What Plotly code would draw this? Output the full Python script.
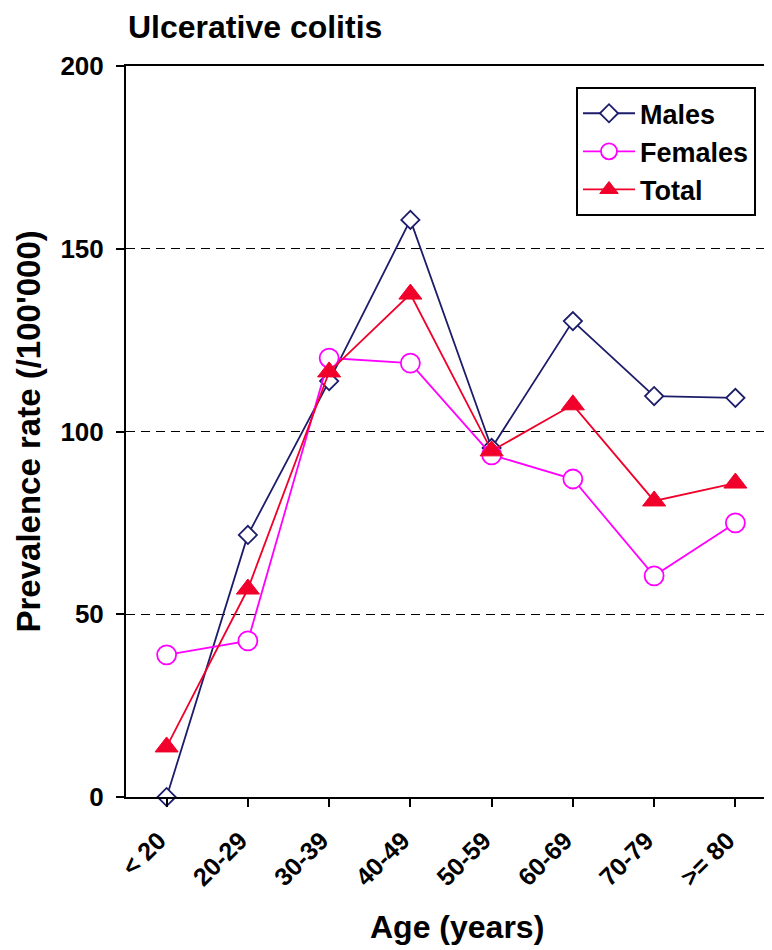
import plotly.graph_objects as go

categories = ["< 20", "20-29", "30-39", "40-49", "50-59", "60-69", "70-79", ">= 80"]
males = [0, 71.7, 113.8, 157.9, 95.5, 130.2, 109.7, 109.2]
females = [38.9, 42.7, 120.1, 118.7, 93.6, 87.0, 60.5, 75.0]
total = [13.7, 56.9, 116.3, 137.6, 94.7, 107.3, 81.0, 85.9]
y_ticks = [0, 50, 100, 150, 200]

FONT = "Arial, Liberation Sans, sans-serif"
xs = list(range(len(categories)))

fig = go.Figure()
fig.add_trace(go.Scatter(
    x=xs, y=males, name="<b>Males</b>", mode="lines+markers",
    line=dict(color="#1c1c6b", width=1.8),
    marker=dict(symbol="diamond", size=14, color="white",
                line=dict(color="#1c1c6b", width=1.8)),
    cliponaxis=False))
fig.add_trace(go.Scatter(
    x=xs, y=females, name="<b>Females</b>", mode="lines+markers",
    line=dict(color="#ff00ff", width=1.8),
    marker=dict(symbol="circle", size=19, color="white",
                line=dict(color="#ff00ff", width=1.8)),
    cliponaxis=False))
fig.add_trace(go.Scatter(
    x=xs, y=total, name="<b>Total</b>", mode="lines+markers",
    line=dict(color="#f0002a", width=1.8),
    marker=dict(symbol="triangle-up", size=20, color="#f0002a",
                line=dict(color="#f0002a", width=1)),
    cliponaxis=False))

L, R, T, B = 118, 768, 58, 789

fig.update_layout(
    width=772, height=950,
    margin=dict(l=L, r=772 - R, t=T, b=950 - B, autoexpand=False),
    paper_bgcolor="white", plot_bgcolor="white",
    font=dict(family=FONT, color="black"),
    title=dict(text="<b>Ulcerative colitis</b>", x=120/772, xanchor="left",
               y=1-19/950, yanchor="middle", font=dict(size=32, family=FONT)),
    legend=dict(x=(568 - L) / (R - L), y=0.971, xanchor="left", yanchor="top",
                bordercolor="black", borderwidth=2, bgcolor="white",
                font=dict(size=27, family=FONT), itemwidth=52),
    showlegend=True,
    annotations=[
        dict(text="<b>Age (years)</b>", xref="paper", yref="paper", x=0.5, y=0,
             xanchor="center", yanchor="middle", xshift=6, yshift=-(919 - B),
             showarrow=False, font=dict(size=32, family=FONT)),
        dict(text="<b>Prevalence rate (/100'000)</b>", xref="paper", yref="paper",
             x=0, y=0.5, xanchor="center", yanchor="middle", xshift=-(L - 20),
             textangle=-90, showarrow=False, font=dict(size=33, family=FONT)),
    ],
)
fig.update_xaxes(
    range=[-0.5, 7.5], tickmode="array", tickvals=xs,
    ticktext=["<b>%s</b>" % c for c in categories],
    tickangle=-45, tickson="boundaries", ticks="outside", ticklen=8,
    tickwidth=2, tickcolor="black", tickfont=dict(size=25, family=FONT),
    ticklabelstandoff=9, ticklabelshift=-8,
    showline=True, linecolor="black", linewidth=2, mirror=True,
    showgrid=False, zeroline=False, automargin=False,
)
fig.update_yaxes(
    range=[0, 200], tickmode="array", tickvals=y_ticks,
    ticktext=["<b>%d</b>" % v for v in y_ticks],
    ticks="outside", ticklen=8, tickwidth=2, tickcolor="black",
    tickfont=dict(size=26, family=FONT), ticklabelstandoff=7,
    showline=True, linecolor="black", linewidth=2, mirror=False,
    showgrid=True, gridcolor="black", griddash="9px,6px", gridwidth=1.3,
    zeroline=False, automargin=False,
)

fig.write_html("out.html")
